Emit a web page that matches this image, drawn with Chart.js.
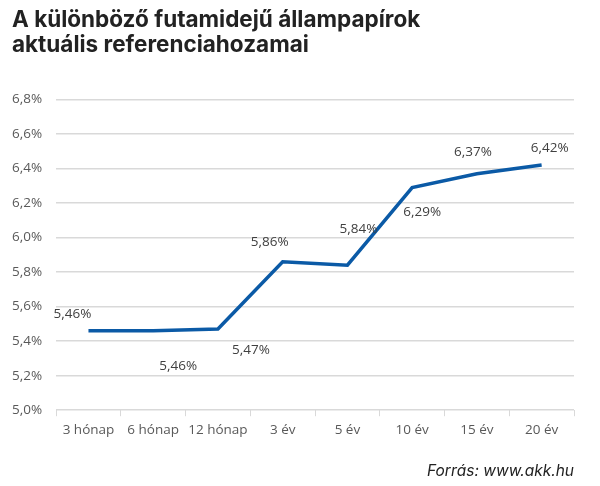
<!DOCTYPE html>
<html>
<head>
<meta charset="utf-8">
<script src="https://cdn.jsdelivr.net/npm/chart.js@4"></script>
<style>
  body { margin: 0; background: #fff; }
  canvas { display: block; }
</style>
</head>
<body>
<canvas id="chart1" width="600" height="486"></canvas>
<script>
const categories = ['3 hónap', '6 hónap', '12 hónap', '3 év', '5 év', '10 év', '15 év', '20 év'];
const yields = [5.46, 5.46, 5.47, 5.86, 5.84, 6.29, 6.37, 6.42];
const yTicks = [5.0, 5.2, 5.4, 5.6, 5.8, 6.0, 6.2, 6.4, 6.6, 6.8];

const fmt = v => v.toFixed(2).replace('.', ',') + '%';

// label offsets from each point, as in the original
const labelOffsets = [[-16, -17], [25, 35], [33, 21], [-13, -20], [11, -36], [10, 25], [-4, -22], [8, -17]];

const pointLabels = {
  id: 'pointLabels',
  afterDatasetsDraw(chart) {
    const ctx = chart.ctx;
    const meta = chart.getDatasetMeta(0);
    ctx.save();
    ctx.font = '13.5px "Open Sans", sans-serif';
    ctx.fillStyle = '#404040';
    ctx.textAlign = 'center';
    ctx.textBaseline = 'middle';
    meta.data.forEach((pt, i) => {
      const off = labelOffsets[i];
      ctx.fillText(fmt(yields[i]), pt.x + off[0], pt.y + off[1]);
    });
    ctx.restore();
  }
};

const ctx1 = document.getElementById('chart1').getContext('2d');
const chart1 = new Chart(ctx1, {
  type: 'line',
  data: {
    labels: categories,
    datasets: [{
      data: yields,
      borderColor: '#0b5aa6',
      borderWidth: 3.5,
      pointRadius: 0,
      tension: 0,
      borderCapStyle: 'butt'
    }]
  },
  options: {
    responsive: false,
    animation: false,
    layout: { padding: { left: 12, right: 26, top: 0, bottom: 0 } },
    plugins: {
      legend: { display: false },
      tooltip: { enabled: false },
      title: {
        display: true,
        text: ['A különböző futamidejű állampapírok', 'aktuális referenciahozamai'],
        align: 'start',
        color: '#222',
        font: { family: 'Inter', size: 22.5, weight: '700', lineHeight: 1.1 },
        padding: { top: 8, bottom: 42 }
      },
      subtitle: {
        display: true,
        position: 'bottom',
        align: 'end',
        text: 'Forrás: www.akk.hu',
        color: '#222',
        font: { family: 'Inter', size: 15.5, style: 'italic' },
        padding: { top: 18, bottom: 5 }
      }
    },
    scales: {
      x: {
        offset: true,
        grid: { drawOnChartArea: false, drawTicks: true, tickLength: 6, color: '#d9d9d9', offset: true },
        border: { display: false },
        ticks: { color: '#595959', font: { family: 'Open Sans', size: 13.5 }, padding: 6, maxRotation: 0 }
      },
      y: {
        min: 5.0,
        max: 6.8,
        afterBuildTicks: axis => { axis.ticks = yTicks.map(v => ({ value: v })); },
        afterFit: axis => { axis.width -= 14; },
        grid: { color: '#d9d9d9', drawTicks: false, lineWidth: 1.5 },
        border: { display: false },
        ticks: {
          color: '#595959',
          font: { family: 'Open Sans', size: 13.5 },
          padding: 14,
          callback: v => v.toFixed(1).replace('.', ',') + '%'
        }
      }
    }
  },
  plugins: [pointLabels]
});
</script>
</body>
</html>
